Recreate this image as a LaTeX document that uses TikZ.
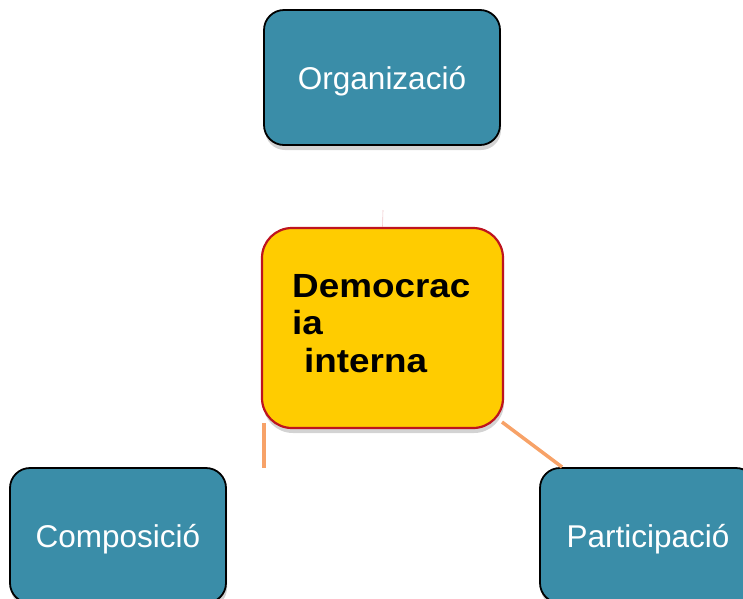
\documentclass[tikz,border=0pt]{standalone}
\usepackage{fontspec}
\setmainfont{Liberation Sans}
\newfontfamily\demfont{Liberation Sans Bold}[FakeStretch=1.1]
\usetikzlibrary{shadows}
\definecolor{tealbox}{RGB}{58,141,168}
\definecolor{goldbox}{RGB}{255,204,0}
\definecolor{redborder}{RGB}{190,20,30}
\definecolor{orangeline}{RGB}{247,162,104}
\tikzset{
  sidebox/.style={draw=black, line width=1.8pt, rounded corners=20pt,
    fill=tealbox,
    text=white, inner sep=0pt, text depth=0pt,
    font=\fontsize{31.5}{38}\selectfont,
    drop shadow={opacity=0.35, shadow xshift=1pt, shadow yshift=-5pt}},
  centerbox/.style={draw=redborder, line width=2.2pt, rounded corners=30pt,
    fill=goldbox, inner sep=0pt,
    drop shadow={opacity=0.35, shadow xshift=1pt, shadow yshift=-5pt}},
  centertext/.style={font=\demfont\fontsize{33.5}{37.5}\selectfont, align=left,
    inner sep=0pt, anchor=base west, text=black},
  link/.style={draw=orangeline, line width=3.5pt},
  faint/.style={draw=redborder!25, line width=0.6pt}
}
\begin{document}
\begin{tikzpicture}[x=1pt,y=-1pt]
\useasboundingbox (0,0) rectangle (743,598);
\clip (0,0) rectangle (743,598);
% boxes
\node[sidebox, minimum width=236pt, minimum height=135pt] (org) at (382,77.5) {Organizació};
\node[sidebox, minimum width=216pt, minimum height=135pt] (comp) at (118,535.5) {Composició};
\node[sidebox, minimum width=216pt, minimum height=135pt] (part) at (648,535.5) {Participació};
\node[centerbox, minimum width=241pt, minimum height=200pt] (dem) at (382.5,328) {};
\begin{scope}
\clip (262,228) rectangle (503,392);
\node[centertext] (demtext) at (292,372) {Democrac\\ia\\\hspace*{12pt}interna};
\end{scope}
% connectors
\coordinate (c1a) at (264,423);
\coordinate (c1b) at (264,468);
\coordinate (c2a) at (502,422);
\coordinate (c2b) at (562,467);
\coordinate (c3a) at (383,210);
\draw[link] (c1a) -- (c1b);
\draw[link] (c2a) -- (c2b);
\draw[faint] (c3a) -- (dem.north);
\end{tikzpicture}
\end{document}
